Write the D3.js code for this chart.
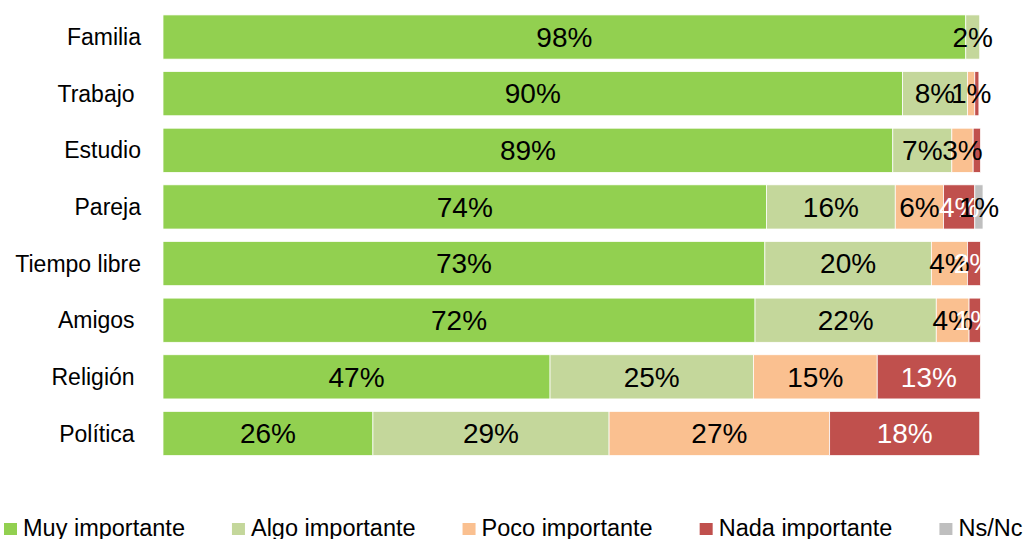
<!DOCTYPE html>
<html lang="es">
<head>
<meta charset="UTF-8">
<title>Importancia de ámbitos de la vida</title>
<script src="https://d3js.org/d3.v7.min.js"></script>
<style>
    body { margin: 0; background: #fff; overflow: hidden; }
    svg { font-family: "Liberation Sans", Arial, sans-serif; display: block; }
    .cat { font-size: 23px; fill: #000; white-space: pre; }
    .val { font-size: 28px; }
    .legend text { font-size: 23.5px; fill: #000; }
</style>
</head>
<body>
<div id="chart"></div>
<script>
// --- data ---
const categories = ["Familia", "Trabajo ", "Estudio", "Pareja", "Tiempo libre", "Amigos ", "Religión ", "Política "];
const seriesNames = ["Muy importante", "Algo importante", "Poco importante", "Nada importante", "Ns/Nc"];
const seriesColors = ["#92D050", "#C4D79B", "#FAC090", "#C0504D", "#BFBFBF"];
const labelColors = ["#000", "#000", "#000", "#fff", "#000"];

const muy   = [97.9, 90.2, 89.0, 73.6, 73.4, 72.2, 47.2, 25.6];
const algo  = [1.7, 7.9, 7.2, 15.7, 20.3, 22.1, 24.8, 28.8];
const poco  = [0, 0.9, 2.6, 5.9, 4.4, 4.0, 15.1, 26.9];
const nada  = [0, 0.5, 0.9, 3.8, 1.6, 1.4, 12.6, 18.3];
const nsnc  = [0, 0, 0, 1.0, 0, 0, 0, 0];

// labels Excel did not show (category index, series index)
const hiddenLabels = [[1, 3], [2, 3]];

const W = 1030, H = 539;
const svg = d3.select("#chart").append("svg").attr("width", W).attr("height", H);

const series = [muy, algo, poco, nada, nsnc];
const rows = categories.map((c, i) => {
    const r = { cat: c };
    seriesNames.forEach((s, j) => { r[s] = series[j][i]; });
    return r;
});
const stacked = d3.stack().keys(seriesNames)(rows);

const x = d3.scaleLinear().domain([0, 100]).range([163, 983]);
const y = d3.scaleBand().domain(categories).range([8.7, 461.8]).paddingInner(0.22).paddingOuter(0.11);

// category labels
svg.append("g").selectAll("text")
    .data(categories)
    .join("text")
    .attr("class", "cat")
    .attr("x", 141)
    .attr("y", d => y(d) + y.bandwidth() / 2)
    .attr("dy", "0.35em")
    .attr("text-anchor", "end")
    .text(d => d);

// bars
const groups = svg.append("g").selectAll("g")
    .data(stacked)
    .join("g")
    .attr("fill", (d, i) => seriesColors[i]);

groups.selectAll("rect")
    .data(d => d.filter(p => p[1] - p[0] > 0))
    .join("rect")
    .attr("x", d => x(d[0]))
    .attr("y", d => y(d.data.cat))
    .attr("width", d => x(d[1]) - x(d[0]))
    .attr("height", y.bandwidth())
    .attr("stroke", "#fff")
    .attr("stroke-width", 0.75);

// value labels, drawn series by series so later ones sit on top
const isHidden = (ci, si) => hiddenLabels.some(h => h[0] === ci && h[1] === si);
stacked.forEach((s, si) => {
    svg.append("g").selectAll("text")
        .data(s.map((p, ci) => ({ p, ci })).filter(d => d.p[1] - d.p[0] > 0 && !isHidden(d.ci, si)))
        .join("text")
        .attr("class", "val")
        .attr("fill", labelColors[si])
        .attr("text-anchor", "middle")
        .attr("x", d => (x(d.p[0]) + x(d.p[1])) / 2)
        .attr("y", d => y(categories[d.ci]) + y.bandwidth() / 2)
        .attr("dy", "0.35em")
        .text(d => Math.round(d.p[1] - d.p[0]) + "%");
});

// legend
const legend = svg.append("g").attr("class", "legend");
let lx = 4;
seriesNames.forEach((name, i) => {
    const g = legend.append("g").attr("transform", `translate(${lx},0)`);
    g.append("rect").attr("x", 0).attr("y", 523).attr("width", 13).attr("height", 12).attr("fill", seriesColors[i]);
    const t = g.append("text").attr("x", 19).attr("y", 536).text(name);
    lx += 19 + t.node().getComputedTextLength() + 47;
});
</script>
</body>
</html>
